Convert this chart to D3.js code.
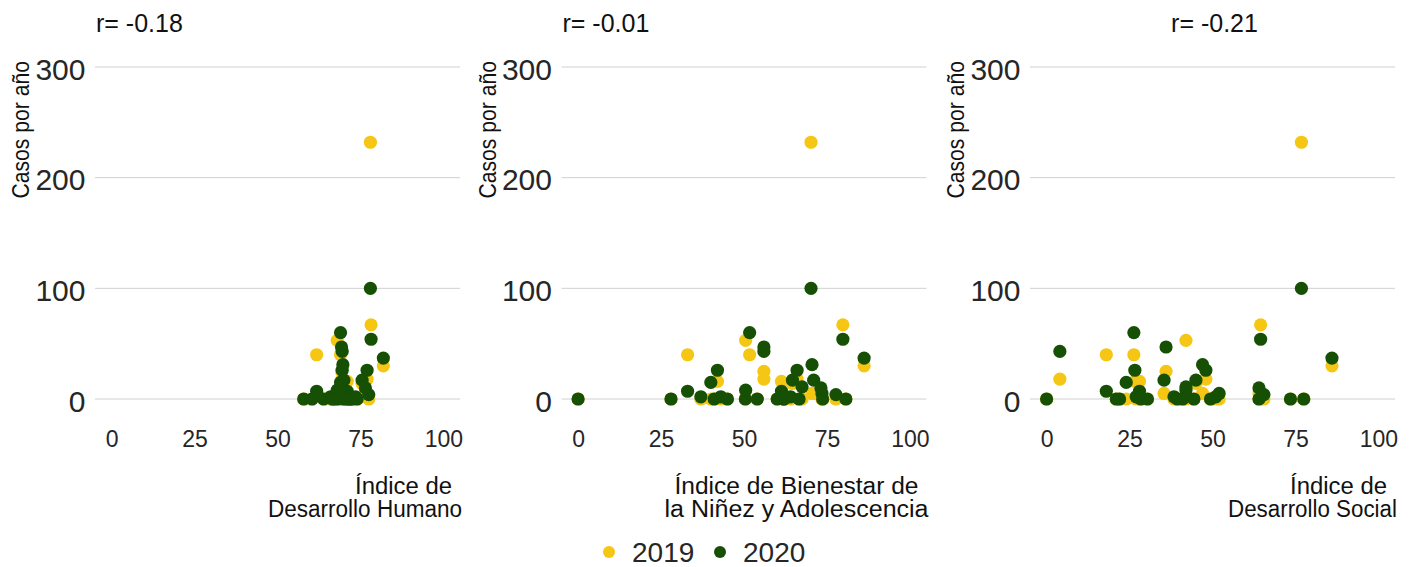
<!DOCTYPE html>
<html>
<head>
<meta charset="utf-8">
<script src="https://cdn.jsdelivr.net/npm/d3@7"></script>
<style>
  html, body { margin: 0; padding: 0; background: #ffffff; }
  svg { display: block; }
</style>
</head>
<body>
<svg id="chart" width="1421" height="567"></svg>
<script>
// Casos por año en cada territorio, 2019 y 2020
const casos2019 = [0, 18, 40, 0, 0, 0, 40, 16, 0, 16, 0, 0, 25, 5, 0, 0, 0, 53, 14, 5, 18, 0, 0, 0, 67, 5, 0, 0, 0, 232, 0, 30, 0, 0];
const casos2020 = [0, 43, 7, 0, 0, 15, 60, 26, 2, 7, 0, 0, 47, 17, 2, 0, 0, 8, 17, 31, 26, 0, 2, 5, 54, 10, 0, 4, 0, 100, 0, 37, 11, 0];

// Índices de cada territorio (0-100)
const idh  = [57.9, 69.5, 61.8, 63.9, 60.4, 69, 69, 69.5, 66, 71, 68, 72, 69.3, 70, 70.5, 71.5, 67, 68, 75.5, 69.7, 77, 72.5, 73.5, 68.5, 78.2, 76.5, 70, 77.5, 71, 78, 74, 81.9, 69, 66.5];
const ibna = [0, 56, 33, 28, 41, 40, 51.7, 42, 43, 61.3, 45, 50.4, 56, 71, 37, 54, 60, 50.5, 64.6, 70.5, 66, 62, 64, 73.5, 79.8, 73.2, 66.6, 77.7, 73.7, 70.2, 80.7, 86.2, 67.5, 62];
const ids  = [0, 4, 18, 21, 22, 24, 26.3, 26.6, 27, 28, 28.4, 30.4, 36, 35.4, 38.4, 39.4, 41, 42, 45, 47, 48, 49.4, 51, 52, 64.5, 64, 64, 65.5, 73.5, 76.8, 77.5, 86, 42, 44.4];

const correlaciones = ["r= -0.18", "r= -0.01", "r= -0.21"];
const titulosX = [
  ["Índice de", "Desarrollo Humano"],
  ["Índice de Bienestar de", "la Niñez y Adolescencia"],
  ["Índice de", "Desarrollo Social"]
];
const tituloY = "Casos por año";
const ticksX = [0, 25, 50, 75, 100];
const ticksY = [0, 100, 200, 300];
const anios = ["2019", "2020"];
const colores = ["#f5c614", "#155005"];

const svg = d3.select("#chart");
const font = "'Liberation Sans', Arial, sans-serif";

const indices = [idh, ibna, ids];
const panelLeft = [95, 561.5, 1030];
const panelW = 365;
const plotTop = 50.4, plotBottom = 415.6;
// ancho ocupado por cada línea del título del eje x (letra estrecha)
const anchoTituloX = [[97, 194], [244, 264], [97, 169]];

const y = d3.scaleLinear().domain([-15, 315]).range([plotBottom, plotTop]);

indices.forEach((xs, p) => {
  const left = panelLeft[p];
  const right = left + panelW;
  const x = d3.scaleLinear().domain([-5, 105]).range([left, right]);
  const g = svg.append("g");

  // líneas de referencia horizontales
  g.selectAll("line.grid").data(ticksY).join("line")
    .attr("x1", left).attr("x2", right)
    .attr("y1", d => y(d)).attr("y2", d => y(d))
    .attr("stroke", "#d0d0d0").attr("stroke-width", 1);

  // eje y
  const ay = g.append("g").attr("transform", `translate(${left},0)`)
    .call(d3.axisLeft(y).tickValues(ticksY).tickSize(0).tickPadding(9.5));
  ay.select(".domain").remove();
  ay.selectAll("text").attr("font-family", font).attr("font-size", 30)
    .attr("fill", "#262626").attr("dy", null).attr("dominant-baseline", "central").attr("y", 1.5);

  // eje x
  const ax = g.append("g").attr("transform", `translate(0,${plotBottom})`)
    .call(d3.axisBottom(x).tickValues(ticksX).tickSize(0).tickFormat(d3.format("d")));
  ax.select(".domain").remove();
  ax.selectAll("text").attr("font-family", font).attr("font-size", 23)
    .attr("fill", "#262626").attr("dy", null).attr("y", 31.5);

  // puntos: 2019 debajo, 2020 encima
  [casos2019, casos2020].forEach((ys, s) => {
    g.append("g").selectAll("circle").data(xs.map((v, i) => [v, ys[i]])).join("circle")
      .attr("cx", d => x(d[0])).attr("cy", d => y(d[1]))
      .attr("r", 6.6).attr("fill", colores[s]);
  });

  // título del panel
  const titulo = g.append("text").text(correlaciones[p])
    .attr("font-family", font).attr("font-size", 25).attr("fill", "#111")
    .attr("y", 32);
  if (p === 2) titulo.attr("x", (left + right) / 2 + 2).attr("text-anchor", "middle");
  else titulo.attr("x", left + 1);

  // título del eje x (dos líneas, alineado a la derecha)
  const fin = [right - 8, right + 2];
  const base = [494, 516.5];
  titulosX[p].forEach((linea, k) => {
    g.append("text").text(linea)
      .attr("font-family", font).attr("font-size", 23).attr("fill", "#111")
      .attr("x", fin[k] - anchoTituloX[p][k]).attr("y", base[k])
      .attr("textLength", anchoTituloX[p][k]).attr("lengthAdjust", "spacingAndGlyphs");
  });

  // título del eje y
  g.append("text").text(tituloY)
    .attr("font-family", font).attr("font-size", 23).attr("fill", "#111")
    .attr("text-anchor", "end")
    .attr("transform", `translate(${left - 66},61) rotate(-90) scale(0.92,1)`);
});

// leyenda
const leyendaX = [609, 720];
anios.forEach((a, i) => {
  svg.append("circle").attr("cx", leyendaX[i]).attr("cy", 552).attr("r", 6).attr("fill", colores[i]);
  svg.append("text").text(a).attr("x", leyendaX[i] + 23).attr("y", 562)
    .attr("font-family", font).attr("font-size", 28).attr("fill", "#262626");
});
</script>
</body>
</html>
